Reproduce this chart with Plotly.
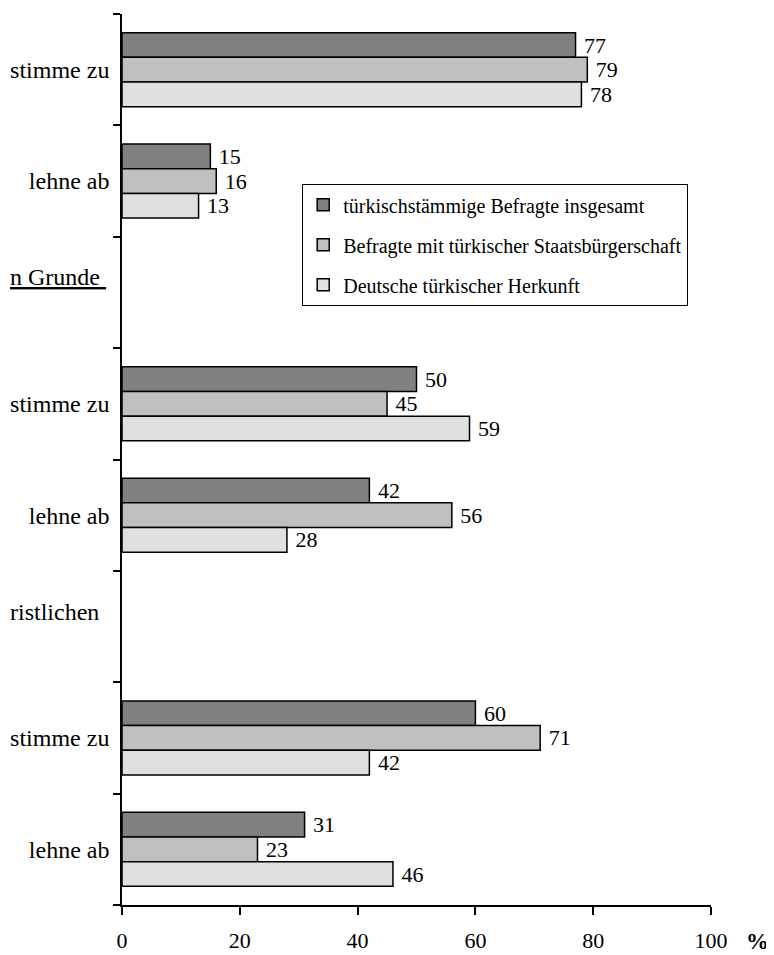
import plotly.graph_objects as go

# category ids (top to bottom) and their tick labels
cat_ids = ["q1_zu", "q1_ab", "q2_head", "q2_zu", "q2_ab", "q3_head", "q3_zu", "q3_ab"]
cat_labels = ["stimme zu", "lehne ab", "", "stimme zu", "lehne ab", "", "stimme zu", "lehne ab"]

# header fragments visible at the left edge
header_ids = ["q2_head", "q3_head"]
header_texts = ["<u>n Grunde\u00a0</u>", "ristlichen"]

series_names = [
    "türkischstämmige Befragte insgesamt",
    "Befragte mit türkischer Staatsbürgerschaft",
    "Deutsche türkischer Herkunft",
]
insgesamt = [77, 15, None, 50, 42, None, 60, 31]
staatsbuerger = [79, 16, None, 45, 56, None, 71, 23]
deutsche = [78, 13, None, 59, 28, None, 42, 46]

x_ticks = [0, 20, 40, 60, 80, 100]

colors = ["#808080", "#c0c0c0", "#e0e0e0"]
FONT = "Liberation Serif, Times New Roman, serif"

# the page body has an 8px margin, so the figure is 8px smaller than the window
W, H = 766, 947
L, T = 114, 6
PW, PH = 589, 891

fig = go.Figure()
for i, (name, vals) in enumerate(zip(series_names, [insgesamt, staatsbuerger, deutsche])):
    fig.add_trace(go.Bar(
        y=cat_ids,
        x=vals,
        orientation="h",
        name=name,
        legendgroup=f"g{i}",
        marker=dict(color=colors[i], line=dict(color="black", width=1.5)),
        text=["" if v is None else f" {v}" for v in vals],
        textposition="outside",
        constraintext="none",
        cliponaxis=False,
        textfont=dict(family=FONT, size=22, color="black"),
        hoverinfo="x+name",
    ))

for hid, txt in zip(header_ids, header_texts):
    fig.add_annotation(
        x=-L / PW, xref="paper", xanchor="left",
        y=hid, yref="y", yshift=15,
        text=txt, showarrow=False,
        font=dict(family=FONT, size=24, color="black"),
    )

fig.add_annotation(
    x=(749 - L) / PW, xref="paper", xanchor="center",
    y=-(933 - (T + PH)) / PH, yref="paper", yanchor="middle",
    text="<b>%</b>", showarrow=False,
    font=dict(family=FONT, size=23, color="black"),
)

fig.update_layout(
    width=W, height=H,
    margin=dict(l=L, r=W - L - PW, t=T, b=H - T - PH),
    barmode="group",
    bargap=0.335,
    bargroupgap=0,
    plot_bgcolor="white",
    paper_bgcolor="white",
    font=dict(family=FONT, color="black"),
    legend=dict(
        x=(294 - L) / PW, xanchor="left",
        y=1 - (176 - T) / PH, yanchor="top",
        bgcolor="white", bordercolor="black", borderwidth=1.2,
        font=dict(family=FONT, size=20, color="black"),
        tracegroupgap=11,
        traceorder="grouped",
        itemwidth=30,
    ),
    showlegend=True,
)

fig.update_xaxes(
    range=[0, 100], tickvals=x_ticks, ticks="outside", ticklen=8, tickwidth=1.5,
    tickcolor="black", showline=True, linecolor="black", linewidth=1.5,
    showgrid=False, zeroline=False, ticklabelstandoff=7, automargin=False,
    tickfont=dict(family=FONT, size=22, color="black"),
)
fig.update_yaxes(
    type="category", categoryorder="array", categoryarray=cat_ids,
    tickmode="array", tickvals=cat_ids, ticktext=cat_labels,
    range=[7.5, -0.5], tickson="boundaries", ticks="outside", ticklen=7,
    tickwidth=1.5, tickcolor="black", showline=True, linecolor="black",
    linewidth=1.5, showgrid=False, automargin=False, ticklabelstandoff=6,
    tickfont=dict(family=FONT, size=24, color="black"),
)

fig.write_html("out.html")
